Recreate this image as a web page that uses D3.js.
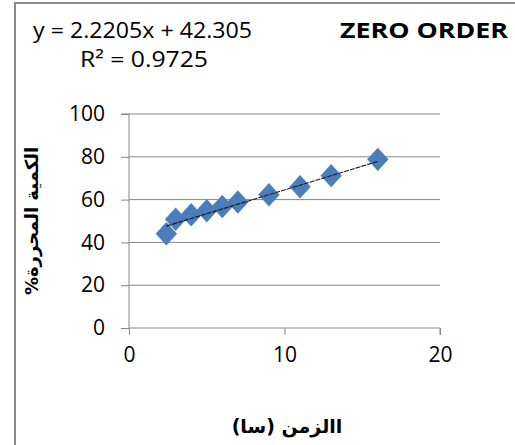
<!DOCTYPE html>
<html>
<head>
<meta charset="utf-8">
<script src="https://cdn.jsdelivr.net/npm/d3@7"></script>
<style>
  body { margin: 0; background: #fff; }
  svg { display: block; font-family: "Open Sans", "DejaVu Sans", sans-serif; }
</style>
</head>
<body>
<svg id="chart" width="515" height="445"></svg>
<script>
// data
const hours = [2.4, 3, 4, 5, 6, 7, 9, 11, 13, 16];
const released = [44, 50.8, 52.9, 54.8, 56.8, 58.9, 62.3, 66, 71.2, 78.8];
const xTicks = [0, 10, 20];
const yTicks = [0, 20, 40, 60, 80, 100];
const slope = 2.2205;
const intercept = 42.305;
const equationText = 'y = 2.2205x + 42.305';
const r2Text = 'R² = 0.9725';
const titleText = 'ZERO ORDER';
const xTitle = 'االزمن (سا)';
const yTitle = 'الكمية المحررة%';

const svg = d3.select('#chart');
const grey = '#868686';

// outer frame (only left and top edges show)
svg.append('path')
  .attr('d', 'M15,445V3H515')
  .attr('fill', 'none')
  .attr('stroke', '#8a8a8a')
  .attr('stroke-width', 2);

const x = d3.scaleLinear().domain([0, 20]).range([129, 440]);
const y = d3.scaleLinear().domain([0, 100]).range([328, 114]);

// gridlines
svg.append('g')
  .selectAll('line')
  .data(yTicks.filter(d => d > 0))
  .join('line')
  .attr('x1', x(0))
  .attr('x2', x(20))
  .attr('y1', d => y(d))
  .attr('y2', d => y(d))
  .attr('stroke', grey)
  .attr('stroke-width', 1);

// y axis
const yAxis = svg.append('g')
  .attr('transform', `translate(${x(0)},0)`)
  .call(d3.axisLeft(y).tickValues(yTicks).tickSize(8).tickPadding(16));
yAxis.select('.domain').attr('stroke', grey).attr('d', `M-8,${y(100)}H0V${y(0)}`);
yAxis.selectAll('.tick line').attr('stroke', grey);
yAxis.selectAll('.tick text')
  .attr('font-size', 21)
  .attr('fill', '#000')
  .attr('font-family', '"Open Sans", sans-serif');

// x axis
const xAxis = svg.append('g')
  .attr('transform', `translate(0,${y(0)})`)
  .call(d3.axisBottom(x).tickValues(xTicks).tickSize(7).tickPadding(12));
xAxis.select('.domain').attr('stroke', grey).attr('d', `M${x(0)},0H${x(20)}V7`);
xAxis.selectAll('.tick line').attr('stroke', grey);
xAxis.selectAll('.tick text')
  .attr('font-size', 21)
  .attr('fill', '#000')
  .attr('font-family', '"Open Sans", sans-serif');

const xMin = d3.min(hours);
const xMax = d3.max(hours);

// diamond markers
const diamond = d3.symbol().type(d3.symbolDiamond2).size(290);
svg.append('g')
  .selectAll('path')
  .data(hours.map((h, i) => [h, released[i]]))
  .join('path')
  .attr('d', diamond)
  .attr('transform', d => `translate(${x(d[0])},${y(d[1])}) scale(1,1.1)`)
  .attr('fill', '#4a7ebb');

// linear trendline on top of markers
svg.append('line')
  .attr('x1', x(xMin))
  .attr('y1', y(slope * xMin + intercept))
  .attr('x2', x(xMax))
  .attr('y2', y(slope * xMax + intercept))
  .attr('stroke', '#1a1a1a')
  .attr('stroke-width', 1.2)
  .attr('stroke-dasharray', '5,1');

// texts
svg.append('text')
  .attr('x', 33).attr('y', 38)
  .attr('font-size', 22)
  .attr('textLength', 219)
  .attr('lengthAdjust', 'spacingAndGlyphs')
  .text(equationText);

svg.append('text')
  .attr('x', 80).attr('y', 67)
  .attr('font-size', 22)
  .attr('textLength', 128)
  .attr('lengthAdjust', 'spacingAndGlyphs')
  .text(r2Text);

svg.append('text')
  .attr('x', 340).attr('y', 38)
  .attr('font-size', 22)
  .attr('font-weight', 'bold')
  .attr('textLength', 168)
  .attr('lengthAdjust', 'spacingAndGlyphs')
  .text(titleText);

svg.append('text')
  .attr('x', 287).attr('y', 433)
  .attr('text-anchor', 'middle')
  .attr('font-size', 19)
  .attr('font-weight', 'bold')
  .attr('font-family', '"DejaVu Sans", sans-serif')
  .attr('direction', 'rtl')
  .text(xTitle);

svg.append('text')
  .attr('transform', 'translate(38,221) rotate(-90)')
  .attr('text-anchor', 'middle')
  .attr('font-size', 18)
  .attr('font-weight', 'bold')
  .attr('font-family', '"DejaVu Sans", sans-serif')
  .attr('direction', 'rtl')
  .text(yTitle);
</script>
</body>
</html>
